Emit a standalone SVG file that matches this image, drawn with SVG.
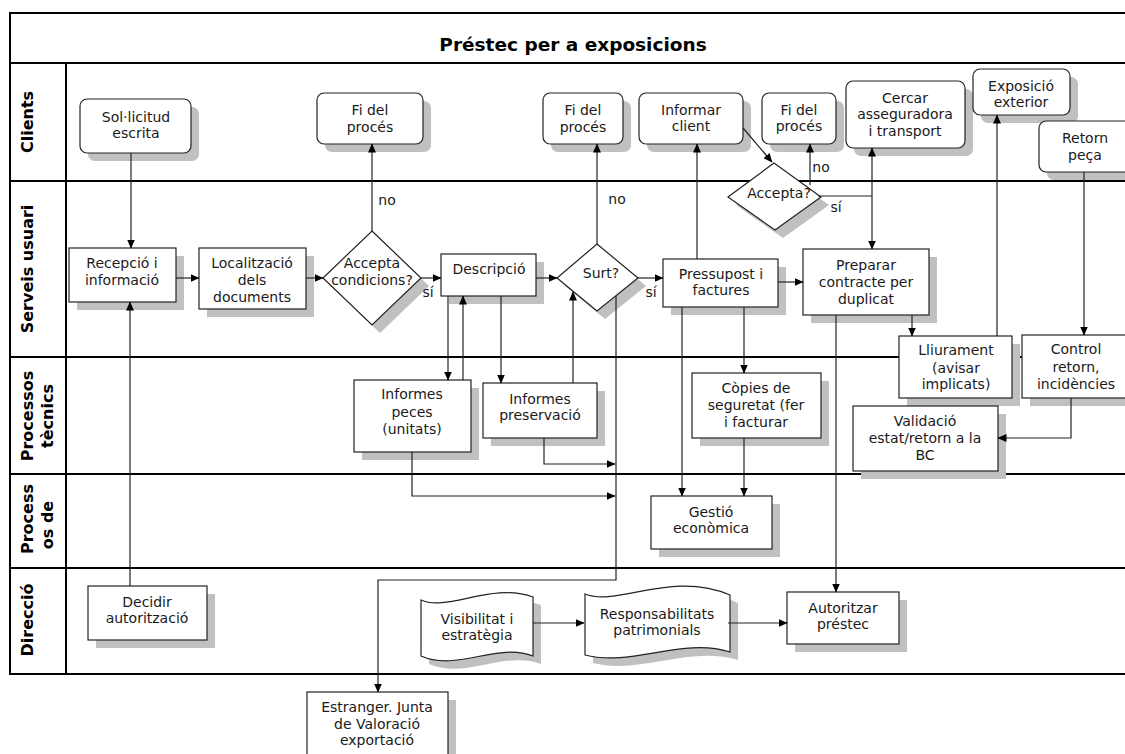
<svg xmlns="http://www.w3.org/2000/svg" width="1125" height="754" viewBox="0 0 1125 754">
<defs>
<marker id="ah" markerWidth="9" markerHeight="8" refX="8.5" refY="4" orient="auto-start-reverse" markerUnits="userSpaceOnUse">
<path d="M0,0 L9,4 L0,8 z" fill="#000"/>
</marker>
<style>
.lane{fill:none;stroke:#000;stroke-width:2}
.box{fill:#fff;stroke:#222;stroke-width:1.2}
.sh{fill:#c0c0c0;stroke:none}
.t{font-family:"DejaVu Sans",Verdana,sans-serif;font-size:14px;fill:#1a1a1a;text-anchor:middle}
.lbl{font-family:"DejaVu Sans",Verdana,sans-serif;font-size:14px;fill:#1a1a1a;text-anchor:middle}
.lh{font-family:"DejaVu Sans",Verdana,sans-serif;font-size:16px;font-weight:bold;fill:#000;text-anchor:middle}
.title{font-family:"DejaVu Sans",Verdana,sans-serif;font-size:18.5px;font-weight:bold;fill:#000;text-anchor:middle}
.c{fill:none;stroke:#222;stroke-width:1.2}
.ca{fill:none;stroke:#222;stroke-width:1.2;marker-end:url(#ah)}
</style>
</defs>
<rect width="1125" height="754" fill="#fff"/>

<g id="swimlanes">
<rect class="lane" x="10" y="13" width="1125" height="661"/>
<line class="lane" x1="10" y1="63" x2="1125" y2="63"/>
<line class="lane" x1="10" y1="181" x2="1125" y2="181"/>
<line class="lane" x1="10" y1="357" x2="1125" y2="357"/>
<line class="lane" x1="10" y1="474" x2="1125" y2="474"/>
<line class="lane" x1="10" y1="568" x2="1125" y2="568"/>
<line class="lane" x1="66" y1="63" x2="66" y2="674"/>
<text class="title" x="573" y="51">Préstec per a exposicions</text>
<text class="lh" transform="translate(33,122) rotate(-90)">Clients</text>
<text class="lh" transform="translate(33,269) rotate(-90)">Serveis usuari</text>
<text class="lh" transform="translate(33,416) rotate(-90)">Processos</text>
<text class="lh" transform="translate(53,416) rotate(-90)">tècnics</text>
<text class="lh" transform="translate(33,519) rotate(-90)">Process</text>
<text class="lh" transform="translate(53,525) rotate(-90)">os de</text>
<text class="lh" transform="translate(33,620) rotate(-90)">Direcció</text>
</g>

<g id="n-sollicitud">
<rect class="sh" x="88" y="107" width="111" height="54" rx="7"/>
<rect class="box" x="80" y="99" width="111" height="54" rx="7"/>
<text class="t" x="136" y="122">Sol·licitud</text><text class="t" x="136" y="138">escrita</text>
</g>
<g id="n-fi1">
<rect class="sh" x="325" y="101" width="106" height="51" rx="7"/>
<rect class="box" x="317" y="93" width="106" height="51" rx="7"/>
<text class="t" x="370" y="115">Fi del</text><text class="t" x="370" y="132">procés</text>
</g>
<g id="n-fi2">
<rect class="sh" x="551" y="101" width="80" height="51" rx="7"/>
<rect class="box" x="543" y="93" width="80" height="51" rx="7"/>
<text class="t" x="583" y="115">Fi del</text><text class="t" x="583" y="132">procés</text>
</g>
<g id="n-informar">
<rect class="sh" x="647" y="101" width="104" height="51" rx="7"/>
<rect class="box" x="639" y="93" width="104" height="51" rx="7"/>
<text class="t" x="691" y="115">Informar</text><text class="t" x="691" y="131">client</text>
</g>
<g id="n-fi3">
<rect class="sh" x="770" y="101" width="74" height="51" rx="7"/>
<rect class="box" x="762" y="93" width="74" height="51" rx="7"/>
<text class="t" x="799" y="115">Fi del</text><text class="t" x="799" y="131">procés</text>
</g>
<g id="n-cercar">
<rect class="sh" x="854" y="89" width="119" height="67" rx="7"/>
<rect class="box" x="846" y="81" width="119" height="67" rx="7"/>
<text class="t" x="905" y="103">Cercar</text><text class="t" x="905" y="119">asseguradora</text><text class="t" x="905" y="136">i transport</text>
</g>
<g id="n-exposicio">
<rect class="sh" x="981" y="77" width="97" height="46" rx="7"/>
<rect class="box" x="973" y="69" width="97" height="46" rx="7"/>
<text class="t" x="1021" y="91">Exposició</text><text class="t" x="1021" y="107">exterior</text>
</g>
<g id="n-retorn">
<rect class="sh" x="1047" y="129" width="94" height="51" rx="7"/>
<rect class="box" x="1039" y="121" width="94" height="51" rx="7"/>
<text class="t" x="1085" y="143">Retorn</text><text class="t" x="1085" y="160">peça</text>
</g>

<g id="n-recepcio">
<rect class="sh" x="77" y="256" width="107" height="54"/>
<rect class="box" x="69" y="248" width="107" height="54"/>
<text class="t" x="122" y="268">Recepció i</text><text class="t" x="122" y="285">informació</text>
</g>
<g id="n-localitzacio">
<rect class="sh" x="207" y="256" width="107" height="61"/>
<rect class="box" x="199" y="248" width="107" height="61"/>
<text class="t" x="252" y="268">Localització</text><text class="t" x="252" y="285">dels</text><text class="t" x="252" y="302">documents</text>
</g>
<g id="n-accepta-condicions">
<polygon class="sh" points="380,239 429,286 380,333 331,286"/>
<polygon class="box" points="372,231 421,278 372,325 323,278"/>
<text class="t" x="372" y="268">Accepta</text><text class="t" x="372" y="285">condicions?</text>
</g>
<g id="n-descripcio">
<rect class="sh" x="449" y="262" width="95" height="42"/>
<rect class="box" x="441" y="254" width="95" height="42"/>
<text class="t" x="489" y="274">Descripció</text>
</g>
<g id="n-surt">
<polygon class="sh" points="605,252 646,286 605,319 565,286"/>
<polygon class="box" points="597,244 638,278 597,311 557,278"/>
<text class="t" x="601" y="278">Surt?</text>
</g>
<g id="n-pressupost">
<rect class="sh" x="671" y="267" width="115" height="48"/>
<rect class="box" x="663" y="259" width="115" height="48"/>
<text class="t" x="721" y="279">Pressupost i</text><text class="t" x="721" y="295">factures</text>
</g>
<g id="n-accepta">
<polygon class="sh" points="782,171 829,205 783,238 736,205"/>
<polygon class="box" points="774,163 821,197 775,230 728,197"/>
<text class="t" x="779" y="198">Accepta?</text>
</g>
<g id="n-preparar">
<rect class="sh" x="811" y="257" width="126" height="66"/>
<rect class="box" x="803" y="249" width="126" height="66"/>
<text class="t" x="866" y="270">Preparar</text><text class="t" x="866" y="287">contracte per</text><text class="t" x="866" y="304">duplicat</text>
</g>

<g id="n-informes-peces">
<rect class="sh" x="362" y="388" width="117" height="72"/>
<rect class="box" x="354" y="380" width="117" height="72"/>
<text class="t" x="412" y="399">Informes</text><text class="t" x="412" y="417">peces</text><text class="t" x="412" y="434">(unitats)</text>
</g>
<g id="n-informes-preservacio">
<rect class="sh" x="491" y="391" width="114" height="55"/>
<rect class="box" x="483" y="383" width="114" height="55"/>
<text class="t" x="540" y="404">Informes</text><text class="t" x="540" y="420">preservació</text>
</g>
<g id="n-copies">
<rect class="sh" x="700" y="381" width="129" height="65"/>
<rect class="box" x="692" y="373" width="129" height="65"/>
<text class="t" x="756" y="393">Còpies de</text><text class="t" x="756" y="410">seguretat (fer</text><text class="t" x="756" y="427">i facturar</text>
</g>
<g id="n-lliurament">
<rect class="sh" x="907" y="344" width="113" height="62"/>
<rect class="box" x="899" y="336" width="113" height="62"/>
<text class="t" x="956" y="355">Lliurament</text><text class="t" x="956" y="373">(avisar</text><text class="t" x="956" y="389">implicats)</text>
</g>
<g id="n-control">
<rect class="sh" x="1030" y="343" width="106" height="63"/>
<rect class="box" x="1022" y="335" width="106" height="63"/>
<text class="t" x="1076" y="354">Control</text><text class="t" x="1076" y="372">retorn,</text><text class="t" x="1076" y="389">incidències</text>
</g>
<g id="n-validacio">
<rect class="sh" x="861" y="414" width="145" height="65"/>
<rect class="box" x="853" y="406" width="145" height="65"/>
<text class="t" x="925" y="426">Validació</text><text class="t" x="925" y="443">estat/retorn a la</text><text class="t" x="925" y="460">BC</text>
</g>

<g id="n-gestio">
<rect class="sh" x="659" y="504" width="121" height="53"/>
<rect class="box" x="651" y="496" width="121" height="53"/>
<text class="t" x="711" y="517">Gestió</text><text class="t" x="711" y="533">econòmica</text>
</g>

<g id="n-decidir">
<rect class="sh" x="96" y="594" width="119" height="54"/>
<rect class="box" x="88" y="586" width="119" height="54"/>
<text class="t" x="147" y="607">Decidir</text><text class="t" x="147" y="623">autorització</text>
</g>
<g id="n-visibilitat">
<path class="sh" d="M429,608 C455,620 500,590 541,605 L541,664 C505,650 465,680 429,664 Z"/>
<path class="box" d="M421,600 C447,612 492,582 533,597 L533,656 C497,642 457,672 421,656 Z"/>
<text class="t" x="477" y="624">Visibilitat i</text><text class="t" x="477" y="640">estratègia</text>
</g>
<g id="n-responsabilitats">
<path class="sh" d="M593,602 C625,615 680,578 738,603 L738,660 C690,645 640,675 593,663 Z"/>
<path class="box" d="M585,594 C617,607 672,570 730,595 L730,652 C682,637 632,667 585,655 Z"/>
<text class="t" x="657" y="619">Responsabilitats</text><text class="t" x="657" y="635">patrimonials</text>
</g>
<g id="n-autoritzar">
<rect class="sh" x="795" y="600" width="112" height="52"/>
<rect class="box" x="787" y="592" width="112" height="52"/>
<text class="t" x="843" y="613">Autoritzar</text><text class="t" x="843" y="629">préstec</text>
</g>
<g id="n-estranger">
<rect class="sh" x="315" y="700" width="141" height="68"/>
<rect class="box" x="307" y="692" width="141" height="68"/>
<text class="t" x="377" y="712">Estranger. Junta</text><text class="t" x="377" y="729">de Valoració</text><text class="t" x="377" y="745">exportació</text>
</g>

<g id="connectors">
<line class="ca" x1="131" y1="153" x2="131" y2="248"/>
<line class="ca" x1="176" y1="278" x2="199" y2="278"/>
<line class="ca" x1="306" y1="278" x2="323" y2="278"/>
<line class="ca" x1="372" y1="231" x2="372" y2="144"/>
<text class="lbl" x="387" y="205">no</text>
<line class="ca" x1="421" y1="278" x2="441" y2="278"/>
<text class="lbl" x="428" y="297">sí</text>
<line class="ca" x1="536" y1="278" x2="557" y2="278"/>
<line class="ca" x1="597" y1="244" x2="597" y2="144"/>
<text class="lbl" x="617" y="204">no</text>
<line class="ca" x1="638" y1="278" x2="663" y2="278"/>
<text class="lbl" x="651" y="297">sí</text>
<line class="ca" x1="697" y1="259" x2="697" y2="144"/>
<line class="ca" x1="743" y1="128" x2="772" y2="162"/>
<line class="ca" x1="810" y1="185" x2="810" y2="144"/>
<text class="lbl" x="821" y="172">no</text>
<line class="c" x1="818" y1="196" x2="872" y2="196"/>
<line class="c" x1="872" y1="148" x2="872" y2="249" marker-start="url(#ah)" marker-end="url(#ah)"/>
<text class="lbl" x="836" y="212">sí</text>
<line class="ca" x1="778" y1="282" x2="803" y2="282"/>
<line class="ca" x1="912" y1="315" x2="912" y2="336"/>
<line class="ca" x1="997" y1="336" x2="997" y2="115"/>
<line class="ca" x1="1084" y1="172" x2="1084" y2="335"/>
<polyline class="ca" points="1071,398 1071,438 998,438"/>
<line class="ca" x1="448" y1="296" x2="448" y2="380"/>
<line class="ca" x1="463" y1="380" x2="463" y2="296"/>
<line class="ca" x1="501" y1="296" x2="501" y2="383"/>
<line class="ca" x1="573" y1="383" x2="573" y2="292"/>
<polyline class="ca" points="616,296 616,580 378,580 378,692"/>
<polyline class="ca" points="544,438 544,464 615,464"/>
<polyline class="ca" points="412,452 412,496 615,496"/>
<line class="ca" x1="682" y1="307" x2="682" y2="496"/>
<line class="ca" x1="744" y1="307" x2="744" y2="373"/>
<line class="ca" x1="744" y1="438" x2="744" y2="496"/>
<line class="ca" x1="130" y1="586" x2="130" y2="302"/>
<line class="ca" x1="533" y1="623" x2="584" y2="623"/>
<line class="ca" x1="728" y1="623" x2="787" y2="623"/>
<line class="ca" x1="836" y1="315" x2="836" y2="592"/>
</g>
</svg>
